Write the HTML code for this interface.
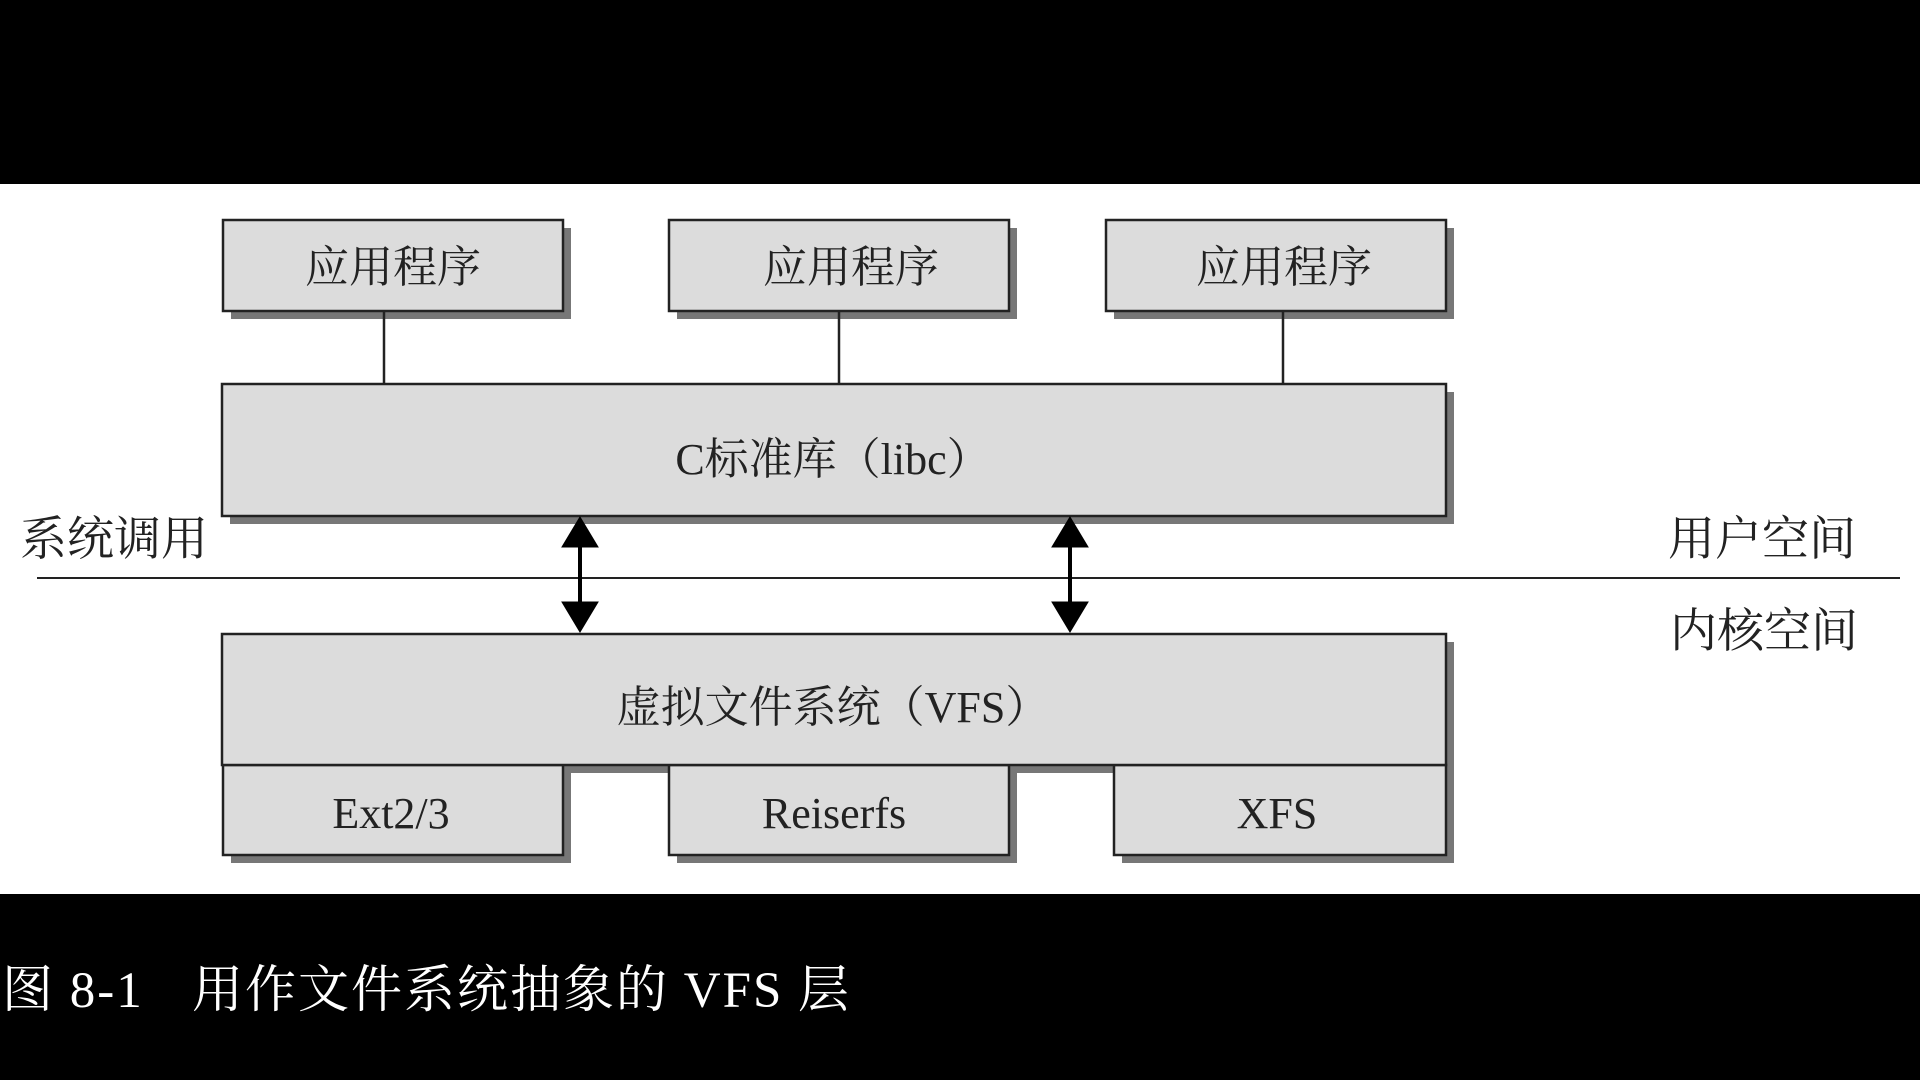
<!DOCTYPE html>
<html><head><meta charset="utf-8"><style>
html,body{margin:0;padding:0;background:#000;width:1920px;height:1080px;overflow:hidden}
svg{display:block}
text{font-family:"Liberation Serif","Noto Serif CJK SC",serif;fill:#222}
</style></head><body>
<svg width="1920" height="1080" viewBox="0 0 1920 1080" xmlns="http://www.w3.org/2000/svg">
<rect x="0" y="0" width="1920" height="1080" fill="#000"/>
<rect x="0" y="184" width="1920" height="710" fill="#fff"/>
<g stroke="#222" stroke-width="2.5">
<g fill="#777" stroke="none">
<rect x="231" y="228" width="340" height="91"/>
<rect x="677" y="228" width="340" height="91"/>
<rect x="1114" y="228" width="340" height="91"/>
<rect x="230" y="392" width="1224" height="132"/>
<rect x="230" y="642" width="1224" height="131"/>
<rect x="231" y="773" width="340" height="90"/>
<rect x="677" y="773" width="340" height="90"/>
<rect x="1122" y="773" width="332" height="90"/>
</g>
<rect x="223" y="220" width="340" height="91" fill="#dcdcdc"/>
<rect x="669" y="220" width="340" height="91" fill="#dcdcdc"/>
<rect x="1106" y="220" width="340" height="91" fill="#dcdcdc"/>
<line x1="384" y1="311" x2="384" y2="384"/>
<line x1="839" y1="311" x2="839" y2="384"/>
<line x1="1283" y1="311" x2="1283" y2="384"/>
<rect x="222" y="384" width="1224" height="132" fill="#dcdcdc"/>
<line x1="37" y1="578" x2="1900" y2="578" stroke-width="2"/>
<rect x="223" y="765" width="340" height="90" fill="#dcdcdc"/>
<rect x="669" y="765" width="340" height="90" fill="#dcdcdc"/>
<rect x="1114" y="765" width="332" height="90" fill="#dcdcdc"/>
<rect x="222" y="634" width="1224" height="131" fill="#dcdcdc"/>
</g>
<g fill="#000" stroke="#000">
<line x1="580" y1="540" x2="580" y2="610" stroke-width="4"/>
<line x1="1070" y1="540" x2="1070" y2="610" stroke-width="4"/>
<path d="M580,517L598,547L562,547z M580,632L598,602L562,602z"/>
<path d="M1070,517L1088,547L1052,547z M1070,632L1088,602L1052,602z"/>
</g>
<g font-size="44" text-anchor="middle">
<text x="393" y="282">应用程序</text>
<text x="851" y="282">应用程序</text>
<text x="1284" y="282">应用程序</text>
<text x="833" y="474">C标准库（libc）</text>
<text x="833" y="722">虚拟文件系统（VFS）</text>
<text x="391" y="828">Ext2/3</text>
<text x="834" y="828">Reiserfs</text>
<text x="1277" y="828">XFS</text>
</g>
<g font-size="47">
<text x="20" y="555">系统调用</text>
<text x="1668" y="555">用户空间</text>
<text x="1670" y="647">内核空间</text>
</g>
<text x="2" y="1007" font-size="51" style="fill:#fff;letter-spacing:2px">图 8-1<tspan x="192">用作文件系统抽象的 VFS 层</tspan></text>
</svg>
</body></html>
